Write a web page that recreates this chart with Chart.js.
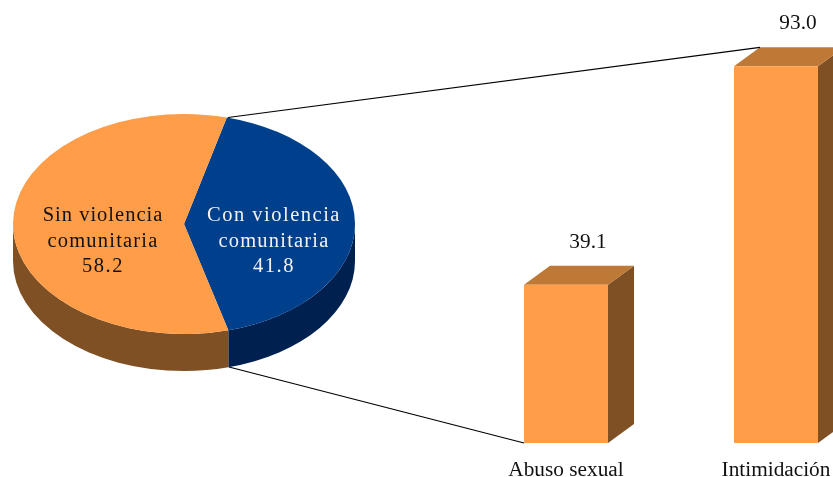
<!DOCTYPE html>
<html lang="es">
<head>
    <meta charset="UTF-8">
    <title>Violencia comunitaria</title>
    <style>
        html, body { margin: 0; padding: 0; background: #fff; overflow: hidden; width: 833px; height: 477px; }
        canvas { position: absolute; }
        #barChart { left: 0; top: 0; }
        #pieChart { left: 13px; top: 53px; }
    </style>
    <script src="https://cdn.jsdelivr.net/npm/chart.js"></script>
</head>
<body>
    <canvas id="barChart" width="900" height="477"></canvas>
    <canvas id="pieChart" width="342" height="342"></canvas>

    <script>
        const barCategories = ['Abuso sexual', 'Intimidación'];
        const barValues = [39.1, 93.0];
        const pieCategories = [['Con violencia', 'comunitaria'], ['Sin violencia', 'comunitaria']];
        const pieValues = [41.8, 58.2];

        const SERIF = "'Liberation Serif', 'Times New Roman', serif";
        const ORANGE = '#FF9D48';
        const ORANGE_TOP = '#BF7936';
        const BROWN = '#7F5024';
        const BLUE = '#003F8B';
        const NAVY = '#00214F';

        // pie is squashed to an ellipse, depth is the height of the side wall
        const squash = 110 / 171;
        const pieDepth = 37;
        const barDepthX = 26;
        const barDepthY = 19;

        // side and top faces of the bars, value labels, lines going to the pie
        const bar3d = {
            id: 'bar3d',
            beforeDatasetsDraw(chart) {
                const ctx = chart.ctx;
                const bars = chart.getDatasetMeta(0).data;
                ctx.save();
                bars.forEach(b => {
                    const left = b.x - b.width / 2;
                    const right = b.x + b.width / 2;
                    ctx.fillStyle = BROWN;
                    ctx.beginPath();
                    ctx.moveTo(right, b.y);
                    ctx.lineTo(right + barDepthX, b.y - barDepthY);
                    ctx.lineTo(right + barDepthX, b.base - barDepthY);
                    ctx.lineTo(right, b.base);
                    ctx.closePath();
                    ctx.fill();
                    ctx.fillStyle = ORANGE_TOP;
                    ctx.beginPath();
                    ctx.moveTo(left, b.y);
                    ctx.lineTo(left + barDepthX, b.y - barDepthY);
                    ctx.lineTo(right + barDepthX, b.y - barDepthY);
                    ctx.lineTo(right, b.y);
                    ctx.closePath();
                    ctx.fill();
                });
                ctx.restore();
            },
            afterDatasetsDraw(chart) {
                const ctx = chart.ctx;
                const bars = chart.getDatasetMeta(0).data;
                ctx.save();
                ctx.font = '21.3px ' + SERIF;
                ctx.fillStyle = '#111';
                ctx.textAlign = 'center';
                ctx.textBaseline = 'alphabetic';
                bars.forEach((b, i) => {
                    ctx.fillText(barValues[i].toFixed(1), b.x + 22, b.y - 37);
                });
                // connector lines
                const first = bars[0];
                const last = bars[bars.length - 1];
                ctx.strokeStyle = '#000';
                ctx.lineWidth = 1.2;
                ctx.beginPath();
                ctx.moveTo(228, 117.5);
                ctx.lineTo(last.x - last.width / 2 + barDepthX, last.y - barDepthY);
                ctx.moveTo(229, 367);
                ctx.lineTo(first.x - first.width / 2, first.base);
                ctx.stroke();
                ctx.restore();
            }
        };

        new Chart(document.getElementById('barChart').getContext('2d'), {
            type: 'bar',
            data: {
                labels: barCategories,
                datasets: [{
                    data: barValues,
                    backgroundColor: ORANGE,
                    categoryPercentage: 1,
                    barPercentage: 0.4
                }]
            },
            options: {
                responsive: false,
                animation: false,
                layout: { padding: { left: 461, right: 19, top: 38, bottom: 0 } },
                plugins: { legend: { display: false }, tooltip: { enabled: false } },
                scales: {
                    x: {
                        grid: { display: false },
                        border: { display: false },
                        afterFit(axis) { axis.height = 34; },
                        ticks: {
                            color: '#111',
                            font: { family: SERIF, size: 21.3 },
                            padding: 7,
                            maxRotation: 0,
                            autoSkip: false
                        }
                    },
                    y: { display: false, min: 0, max: 100 }
                }
            },
            plugins: [bar3d]
        });

        const pie3d = {
            id: 'pie3d',
            beforeDatasetsDraw(chart) {
                const ctx = chart.ctx;
                const arcs = chart.getDatasetMeta(0).data;
                const sideColors = [NAVY, BROWN];
                ctx.save();
                ctx.translate(arcs[0].x, arcs[0].y);
                ctx.scale(1, squash);
                // side wall: only the front half of the rim shows
                arcs.forEach((a, i) => {
                    const from = Math.max(a.startAngle, 0);
                    const to = Math.min(a.endAngle, Math.PI);
                    ctx.fillStyle = sideColors[i];
                    ctx.beginPath();
                    ctx.arc(0, 0, a.outerRadius, from, to);
                    ctx.arc(0, pieDepth / squash, a.outerRadius, to, from, true);
                    ctx.closePath();
                    ctx.fill();
                });
                ctx.restore();
                // squash the slices the library draws next
                ctx.save();
                ctx.translate(arcs[0].x, arcs[0].y);
                ctx.scale(1, squash);
                ctx.translate(-arcs[0].x, -arcs[0].y);
            },
            afterDatasetsDraw(chart) {
                const ctx = chart.ctx;
                ctx.restore();
                const arcs = chart.getDatasetMeta(0).data;
                const offsets = [90, -81];
                const colors = ['#F2F2F2', '#111'];
                const spacing = [[1.5, 1.2, 1.5], [1, 1.2, 1.5]];
                ctx.save();
                ctx.font = '20.5px ' + SERIF;
                ctx.textAlign = 'center';
                ctx.textBaseline = 'alphabetic';
                arcs.forEach((a, i) => {
                    const x = a.x + offsets[i];
                    const lines = [pieCategories[i][0], pieCategories[i][1], pieValues[i].toFixed(1)];
                    const ys = [a.y - 3, a.y + 22.5, a.y + 47.5];
                    ctx.fillStyle = colors[i];
                    lines.forEach((line, j) => {
                        ctx.letterSpacing = spacing[i][j] + 'px';
                        ctx.fillText(line, x, ys[j]);
                    });
                });
                ctx.restore();
            }
        };

        new Chart(document.getElementById('pieChart').getContext('2d'), {
            type: 'pie',
            data: {
                labels: pieCategories.map(l => l.join(' ')),
                datasets: [{
                    data: pieValues,
                    backgroundColor: [BLUE, ORANGE],
                    borderWidth: 0
                }]
            },
            options: {
                responsive: false,
                animation: false,
                rotation: 14.5,
                plugins: { legend: { display: false }, tooltip: { enabled: false } }
            },
            plugins: [pie3d]
        });
    </script>
</body>
</html>
